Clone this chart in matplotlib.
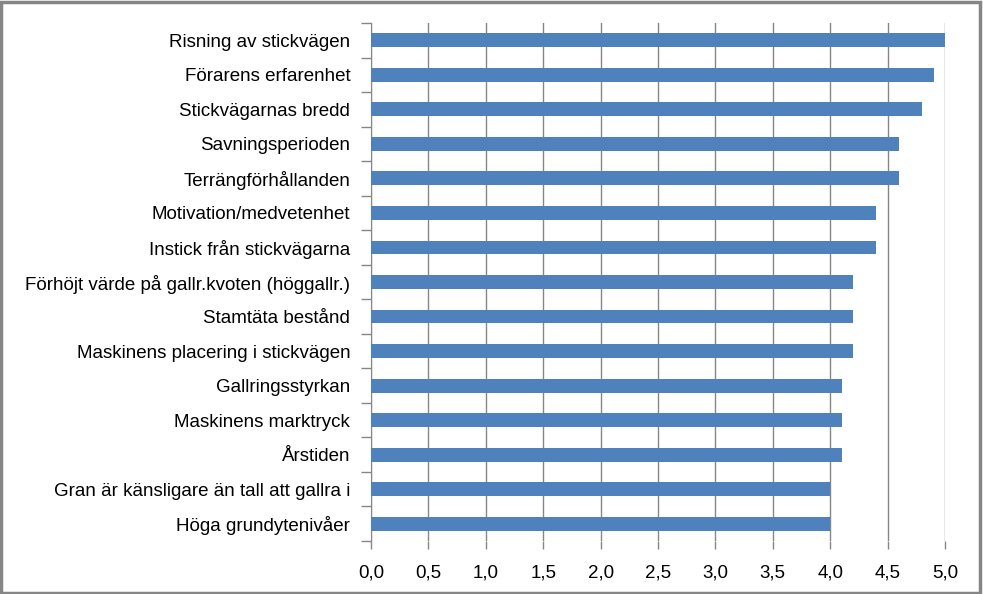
import matplotlib.pyplot as plt
import numpy as np
from matplotlib.patches import Rectangle

categories = [
    "Risning av stickvägen",
    "Förarens erfarenhet",
    "Stickvägarnas bredd",
    "Savningsperioden",
    "Terrängförhållanden",
    "Motivation/medvetenhet",
    "Instick från stickvägarna",
    "Förhöjt värde på gallr.kvoten (höggallr.)",
    "Stamtäta bestånd",
    "Maskinens placering i stickvägen",
    "Gallringsstyrkan",
    "Maskinens marktryck",
    "Årstiden",
    "Gran är känsligare än tall att gallra i",
    "Höga grundytenivåer",
]
values = [5.0, 4.9, 4.8, 4.6, 4.6, 4.4, 4.4, 4.2, 4.2, 4.2, 4.1, 4.1, 4.1, 4.0, 4.0]
xticks = [0.0, 0.5, 1.0, 1.5, 2.0, 2.5, 3.0, 3.5, 4.0, 4.5, 5.0]

GRAY = '#868686'
plt.rcParams['font.family'] = ['Liberation Sans', 'DejaVu Sans']

fig = plt.figure(figsize=(9.83, 5.94), dpi=100)
ax = fig.add_axes([371 / 983, 1 - 541 / 594, (945 - 371) / 983, (541 - 23) / 594])

y = np.arange(len(categories))
ax.barh(y, values, height=0.4, color='#4F81BD', zorder=3)

ax.set_xlim(0, 5)
ax.set_ylim(len(categories) - 0.5, -0.5)
ax.set_xticks(xticks)
ax.set_xticklabels([("%.1f" % t).replace('.', ',') for t in xticks], fontsize=13.5)
ax.set_yticks(y)
ax.set_yticklabels(categories, fontsize=13.5)
ax.set_yticks(np.arange(len(categories) + 1) - 0.5, minor=True)
ax.tick_params(axis='y', which='major', length=0, pad=15)
ax.tick_params(axis='y', which='minor', length=7, color=GRAY, width=1)
ax.tick_params(axis='x', length=6, color=GRAY, width=1, pad=11)
ax.grid(axis='x', color=GRAY, linewidth=1, zorder=0)

for s in ['top', 'right', 'bottom']:
    ax.spines[s].set_visible(False)
ax.spines['left'].set_color(GRAY)

fig.patches.append(Rectangle((0.001, 0.002), 0.996, 0.995, transform=fig.transFigure,
                             fill=False, edgecolor=GRAY, linewidth=2.5))

fig.savefig('out.png', dpi=100)
